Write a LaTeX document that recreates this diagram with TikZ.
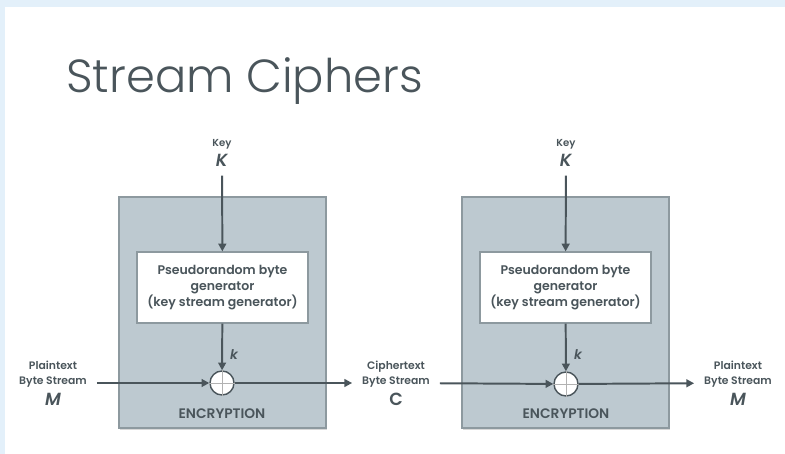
\documentclass[tikz,border=0pt]{standalone}
\usepackage{fontspec}
\setmainfont{Poppins}[BoldFont={Poppins SemiBold},BoldItalicFont={Poppins SemiBold Italic}]
\newfontfamily\titlefont{Poppins Light}
\usetikzlibrary{arrows.meta,positioning,shadows}
\definecolor{slate}{HTML}{4A555B}
\definecolor{panel}{HTML}{BDC9D0}
\definecolor{panelline}{HTML}{8D999F}
\definecolor{frame}{HTML}{E3F0FA}

\begin{document}
\begin{tikzpicture}[x=0.025cm, y=-0.025cm,
  panel/.style={draw=panelline, fill=panel, line width=0.9pt, minimum width=5.175cm, minimum height=5.775cm, drop shadow={shadow xshift=0.8pt, shadow yshift=-1.2pt, opacity=0.3}},
  gen/.style={draw=panelline, fill=white, line width=0.8pt, minimum width=4.275cm, minimum height=1.775cm, align=center, text=slate, font=\bfseries\fontsize{8.9}{11.4}\selectfont, drop shadow={shadow xshift=0.6pt, shadow yshift=-0.8pt, opacity=0.25}},
  xor/.style={circle, draw=slate, fill=white, line width=1pt, minimum size=0.6cm, inner sep=0pt},
  lbl/.style={align=center, text=slate, inner xsep=7pt, font=\bfseries\fontsize{7.7}{10.6}\selectfont},
  keylbl/.style={align=center, text=slate, inner xsep=2pt, inner ysep=6.5pt, font=\bfseries\fontsize{7.2}{9}\selectfont},
  tag/.style={text=slate, font=\bfseries\fontsize{9.8}{10}\selectfont},
  arr/.style={-{Triangle[length=5.5pt,width=5.5pt]}, line width=1.4pt, draw=slate}]
\fill[frame] (0,0) rectangle (785,454);
\fill[white] (5,7) rectangle (785,454);
\useasboundingbox (0,0) rectangle (785,454);
\node[anchor=base west, inner sep=0pt, text=slate, font=\titlefont\fontsize{33}{36}\selectfont] (title) at (66,92) {Stream Ciphers};

% encryption side
\node[panel] (encA) at (222.5,312.5) {};
\node[gen] (genA) at (222.5,287.5) {Pseudorandom byte\\generator\\(key stream generator)};
\node[xor] (xorA) at (222,383) {};
\draw[gray!60, line width=0.6pt] (xorA.north) -- (xorA.south) (xorA.west) -- (xorA.east);
\node[keylbl] (keyA) at (222,153) {Key\\[2pt]{\fontsize{12.5}{12}\selectfont\textit{K}}};
\node[tag, font=\bfseries\itshape\fontsize{9.5}{10}\selectfont] (kA) at (234,355) {k};
\node[tag] (tagA) at (222,414) {ENCRYPTION};
\node[lbl] (plainIn) at (53,383) {Plaintext\\Byte Stream\\[3pt]{\fontsize{12.5}{13}\selectfont\textit{M}}};
\node[lbl] (cipher) at (396,383) {Ciphertext\\Byte Stream\\[3pt]{\fontsize{12.5}{13}\selectfont C}};
\draw[arr] (keyA) -- (genA);
\draw[arr] (genA) -- (xorA);
\draw[arr] (plainIn) -- (xorA);
\draw[arr] (xorA) -- (cipher);

% decryption side
\node[panel] (encB) at (565.5,312.5) {};
\node[gen] (genB) at (565.5,287.5) {Pseudorandom byte\\generator\\(key stream generator)};
\node[xor] (xorB) at (566,384) {};
\draw[gray!60, line width=0.6pt] (xorB.north) -- (xorB.south) (xorB.west) -- (xorB.east);
\node[keylbl] (keyB) at (566,153) {Key\\[2pt]{\fontsize{12.5}{12}\selectfont\textit{K}}};
\node[tag, font=\bfseries\itshape\fontsize{9.5}{10}\selectfont] (kB) at (578,355) {k};
\node[tag] (tagB) at (566,414) {ENCRYPTION};
\node[lbl] (plainOut) at (738,383) {Plaintext\\Byte Stream\\[3pt]{\fontsize{12.5}{13}\selectfont\textit{M}}};
\draw[arr] (keyB) -- (genB);
\draw[arr] (genB) -- (xorB);
\draw[arr] (cipher) -- (xorB);
\draw[arr] (xorB) -- (plainOut);
\end{tikzpicture}
\end{document}
